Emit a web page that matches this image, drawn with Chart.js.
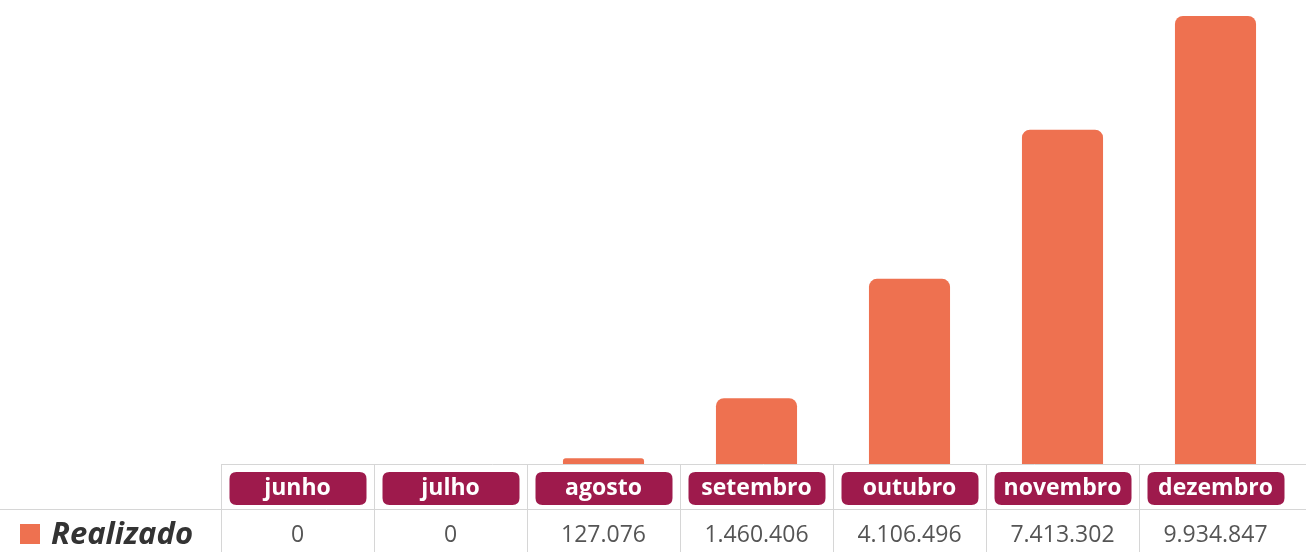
<!DOCTYPE html>
<html>
<head>
<meta charset="utf-8">
<script src="https://cdn.jsdelivr.net/npm/chart.js@4"></script>
<style>
  body { margin: 0; background: #fff; }
  canvas { display: block; }
</style>
</head>
<body>
<canvas id="myChart" width="1306" height="552"></canvas>
<script>
var months = ['junho', 'julho', 'agosto', 'setembro', 'outubro', 'novembro', 'dezembro'];
var realizado = [0, 0, 127076, 1460406, 4106496, 7413302, 9934847];
var seriesName = 'Realizado';

var barColor = '#ee7150';
var pillColor = '#9e1a4c';
var lineColor = '#d6d6d6';

function fmt(v) {
  return v.toString().replace(/\B(?=(\d{3})+(?!\d))/g, '.');
}

function roundRect(ctx, x, y, w, h, r) {
  ctx.beginPath();
  ctx.moveTo(x + r, y);
  ctx.lineTo(x + w - r, y);
  ctx.quadraticCurveTo(x + w, y, x + w, y + r);
  ctx.lineTo(x + w, y + h - r);
  ctx.quadraticCurveTo(x + w, y + h, x + w - r, y + h);
  ctx.lineTo(x + r, y + h);
  ctx.quadraticCurveTo(x, y + h, x, y + h - r);
  ctx.lineTo(x, y + r);
  ctx.quadraticCurveTo(x, y, x + r, y);
  ctx.closePath();
}

// table under the bars: month pills + values row
var tablePlugin = {
  id: 'dataTable',
  afterDraw: function(chart) {
    var ctx = chart.ctx;
    var xs = chart.scales.x;
    var area = chart.chartArea;
    var colW = (area.right - area.left) / months.length;
    var top = area.bottom;
    var mid = top + 45;
    var bottom = chart.height;

    ctx.save();
    ctx.strokeStyle = lineColor;
    ctx.lineWidth = 1;
    ctx.beginPath();
    ctx.moveTo(area.left, top + 0.5);
    ctx.lineTo(chart.width, top + 0.5);
    ctx.moveTo(0, mid + 0.5);
    ctx.lineTo(chart.width, mid + 0.5);
    // no border on the far right
    for (var i = 0; i < months.length; i++) {
      var bx = Math.round(area.left + i * colW) + 0.5;
      ctx.moveTo(bx, top);
      ctx.lineTo(bx, bottom);
    }
    ctx.stroke();

    ctx.textAlign = 'center';
    ctx.textBaseline = 'middle';
    months.forEach(function(m, i) {
      var cx = xs.getPixelForValue(i);
      ctx.fillStyle = pillColor;
      roundRect(ctx, cx - 68, top + 8, 137, 33, 7);
      ctx.fill();
      ctx.fillStyle = '#fff';
      ctx.font = 'bold 23px "Open Sans"';
      ctx.fillText(m, cx, top + 24);

      ctx.fillStyle = '#555';
      ctx.font = '23px "Open Sans"';
      ctx.fillText(fmt(realizado[i]), cx, mid + 26);
    });

    ctx.fillStyle = barColor;
    ctx.fillRect(20, mid + 15, 20, 20);
    ctx.fillStyle = '#333';
    ctx.textAlign = 'left';
    ctx.font = 'italic bold 31px "Open Sans"';
    ctx.fillText(seriesName, 51, mid + 26);
    ctx.restore();
  }
};

var ctx = document.getElementById('myChart').getContext('2d');
var myChart = new Chart(ctx, {
  type: 'bar',
  data: {
    labels: months,
    datasets: [{
      label: seriesName,
      data: realizado,
      backgroundColor: barColor,
      borderRadius: { topLeft: 8, topRight: 8 },
      borderSkipped: 'bottom',
      barPercentage: 0.53,
      categoryPercentage: 1
    }]
  },
  options: {
    responsive: false,
    devicePixelRatio: 1,
    animation: false,
    layout: { padding: { left: 221, right: 14, top: 13, bottom: 88 } },
    plugins: { legend: { display: false }, tooltip: { enabled: false } },
    scales: {
      x: { display: false },
      y: { display: false, beginAtZero: true, min: 0, max: 10000000 }
    }
  },
  plugins: [tablePlugin]
});
</script>
</body>
</html>
